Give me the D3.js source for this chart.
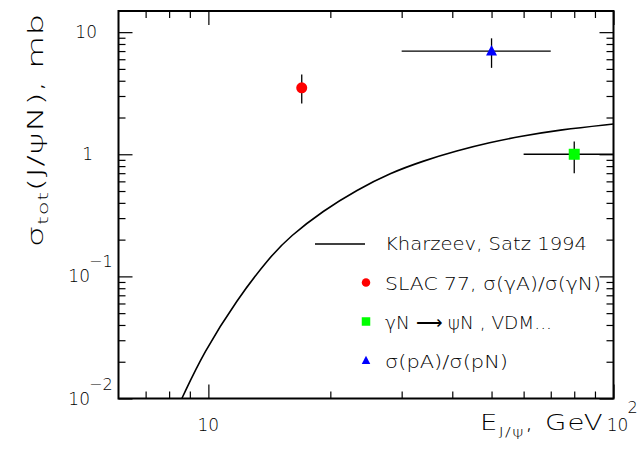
<!DOCTYPE html>
<html><head><meta charset="utf-8">
<script src="https://cdn.jsdelivr.net/npm/d3@7"></script>
<style>
body{margin:0;background:#fff}
text{font-family:"DejaVu Sans",sans-serif;fill:#000;font-weight:200}
</style></head>
<body><svg id="c" width="637" height="461"></svg>
<script>
// ---- data ----
const curveE     = [8.6, 9.72, 11.75, 14.2, 15.9, 19.2, 23.3, 28.1, 34.0, 41.0, 49.6, 58.8, 73.8, 100];
const curveSigma = [0.01, 0.0236, 0.0644, 0.145, 0.2125, 0.345, 0.512, 0.702, 0.885, 1.068, 1.25, 1.40, 1.59, 1.77];

const pointNames     = ["SLAC 77", "VDM", "pA/pN"];
const pointE         = [17, 80, 50];
const pointELow      = [17, 60, 30];
const pointEHigh     = [17, 100, 70];
const pointSigma     = [3.5, 1.0, 7.0];
const pointSigmaLow  = [2.6, 0.70, 5.1];
const pointSigmaHigh = [4.5, 1.27, 8.9];
const pointColors    = ["#ff0000", "#00ff00", "#0000ff"];
const pointShapes    = ["circle", "square", "triangle"];

const xMajorTicks = [10, 100];
const xMinorTicks = [7, 8, 9, 20, 30, 40, 50, 60, 70, 80, 90];
const yMajorTicks = [0.01, 0.1, 1, 10];
const yMinorTicks = [0.02,0.03,0.04,0.05,0.06,0.07,0.08,0.09,0.2,0.3,0.4,0.5,0.6,0.7,0.8,0.9,2,3,4,5,6,7,8,9];
const xTickLabels = [{v:10, base:"10", sup:""}, {v:100, base:"10", sup:"2"}];
const yTickLabels = [{v:10, base:"10", sup:""}, {v:1, base:"1", sup:""}, {v:0.1, base:"10", sup:"\u22121"}, {v:0.01, base:"10", sup:"\u22122"}];

const legendLabels = ["Kharzeev, Satz 1994", "SLAC 77, \u03c3(\u03b3A)/\u03c3(\u03b3N)", "\u03b3N \u27f6 \u03c8N , VDM...", "\u03c3(pA)/\u03c3(pN)"];

// ---- layout ----
const L = 118.5, R = 613.5, T = 11, B = 398.5;
const svg = d3.select("#c");
const x = d3.scaleLog().domain([6, 100]).range([L, R]);
const y = d3.scaleLog().domain([0.01, 14.9]).range([B, T]);

function ticks(makeAxis, transform, values, len) {
  svg.append("g").attr("transform", transform)
    .call(makeAxis().tickValues(values).tickSizeInner(-len).tickSizeOuter(0).tickFormat(""))
    .call(g => g.select(".domain").remove())
    .call(g => g.selectAll("line").attr("stroke","#000").attr("stroke-width",1.2));
}
const sides = [
  [() => d3.axisBottom(x), `translate(0,${B})`, xMajorTicks, xMinorTicks],
  [() => d3.axisTop(x),    `translate(0,${T})`, xMajorTicks, xMinorTicks],
  [() => d3.axisLeft(y),   `translate(${L},0)`, yMajorTicks, yMinorTicks],
  [() => d3.axisRight(y),  `translate(${R},0)`, yMajorTicks, yMinorTicks]
];
sides.forEach(([mk, tr, maj, min]) => { ticks(mk, tr, maj, 14); ticks(mk, tr, min, 7); });

svg.append("rect").attr("x", L).attr("y", T).attr("width", R-L).attr("height", B-T)
  .attr("fill","none").attr("stroke","#000").attr("stroke-width",2);

// tick labels
yTickLabels.forEach(d => {
  const t = svg.append("text").attr("y", y(d.v) + 6).attr("font-size", 17);
  if (d.sup) {
    t.attr("x", 90).attr("text-anchor","end").text(d.base);
    svg.append("text").attr("x", 89).attr("y", y(d.v) - 9).attr("font-size", 16).text(d.sup);
  } else {
    t.attr("x", d.v === 1 ? 93 : 97).attr("text-anchor","end").text(d.base);
  }
});
xTickLabels.forEach(d => {
  const cx = d.sup ? x(d.v) + 4 : x(d.v);
  svg.append("text").attr("x", cx).attr("y", 431).attr("text-anchor","middle").attr("font-size",17).text(d.base);
  if (d.sup) svg.append("text").attr("x", cx + 10).attr("y", 413).attr("font-size",16).text(d.sup);
});

// axis titles (stretched horizontally like the original wide font)
function stretch(sel, target) {
  return target / sel.node().getBBox().width;
}
const xt = svg.append("text").attr("font-size", 21).attr("letter-spacing", 1);
xt.append("tspan").text("E");
xt.append("tspan").attr("font-size", 13).attr("dy", 6).text("J/\u03c8");
xt.append("tspan").attr("dy", -6).text(", GeV");
xt.attr("transform", `translate(480,430) scale(${stretch(xt, 124)},1)`);

const yt = svg.append("text").attr("font-size", 21).attr("letter-spacing", 0.5);
yt.append("tspan").text("\u03c3");
yt.append("tspan").attr("font-size", 14).attr("dy", 5).text("tot");
yt.append("tspan").attr("dy", -5).text("(J/\u03c8N), mb");
yt.attr("transform", `translate(43,247) rotate(-90) scale(${stretch(yt, 234)},1)`);

// curve
const curveData = curveE.map((e, i) => [e, curveSigma[i]]);
svg.append("path").datum(curveData)
  .attr("d", d3.line().x(d => x(d[0])).y(d => y(d[1])).curve(d3.curveBasis))
  .attr("fill","none").attr("stroke","#000").attr("stroke-width",1.6);

// error bars & points
function marker(g, shape, cx, cy, s, color) {
  if (shape === "circle") g.append("circle").attr("cx", cx).attr("cy", cy).attr("r", s/2).attr("fill", color);
  else if (shape === "square") g.append("rect").attr("x", cx - s/2).attr("y", cy - s/2).attr("width", s).attr("height", s).attr("fill", color);
  else g.append("path").attr("d", `M${cx},${cy - s*0.55}L${cx + s/2},${cy + s*0.4}L${cx - s/2},${cy + s*0.4}Z`).attr("fill", color);
}
const pts = svg.append("g");
pointE.forEach((e, i) => {
  if (pointELow[i] !== pointEHigh[i])
    pts.append("line").attr("x1", x(pointELow[i])).attr("x2", x(pointEHigh[i]))
      .attr("y1", y(pointSigma[i])).attr("y2", y(pointSigma[i])).attr("stroke","#000").attr("stroke-width",1.3);
  pts.append("line").attr("x1", x(e)).attr("x2", x(e))
    .attr("y1", y(pointSigmaLow[i])).attr("y2", y(pointSigmaHigh[i])).attr("stroke","#000").attr("stroke-width",1.3);
  marker(pts, pointShapes[i], x(e), y(pointSigma[i]), 11, pointColors[i]);
});

// legend
const legBase = [250, 290, 329, 368];
const legEnd  = [587, 601, 552, 508];
svg.append("line").attr("x1", 315).attr("x2", 365).attr("y1", 244).attr("y2", 244).attr("stroke","#000").attr("stroke-width",1.6);
pointShapes.forEach((s, i) => marker(svg, s, 366, legBase[i+1] - 7.5, 8.5, pointColors[i]));
legendLabels.forEach((t, i) => {
  svg.append("text").attr("x", 385).attr("y", legBase[i]).attr("font-size", 17)
    .attr("textLength", legEnd[i] - 385).attr("lengthAdjust", "spacingAndGlyphs").text(t);
});
</script></body></html>
